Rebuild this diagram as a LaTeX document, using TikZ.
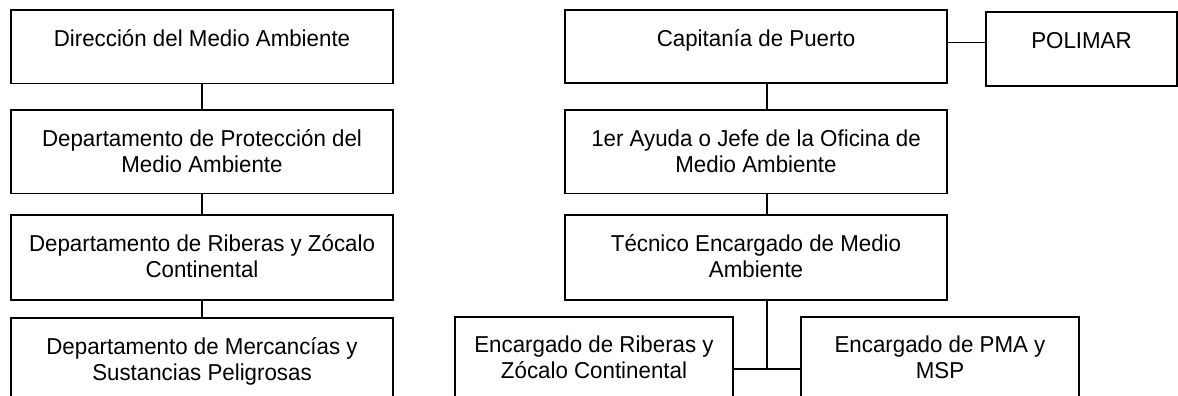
\documentclass[tikz,border=0pt]{standalone}
\usepackage{fontspec}
\setmainfont{Liberation Sans}[FakeStretch=0.97]
\tikzset{
  box/.style={draw=black, line width=1.8pt, rectangle, inner sep=0pt, outer sep=0pt, fill=white},
  lbl/.style={anchor=north, inner sep=0pt, align=center, font=\fontsize{23pt}{25.8pt}\selectfont},
  conn/.style={draw=black, line width=1.8pt}
}
\newcommand{\tl}{\rule{0pt}{19pt}}
\begin{document}
\begin{tikzpicture}[x=1pt,y=-1pt]
\useasboundingbox (0,0) rectangle (1178,396);
% left column
\node[box, minimum width=382pt, minimum height=73.5pt] (l1) at (202,46.75) {};
\node[box, minimum width=382pt, minimum height=83.5pt] (l2) at (202,151.75) {};
\node[box, minimum width=382pt, minimum height=85pt] (l3) at (202,257.5) {};
\node[box, minimum width=382pt, minimum height=102pt] (l4) at (202,369) {};
% right column
\node[box, minimum width=382pt, minimum height=73pt] (r1) at (756,46.5) {};
\node[box, minimum width=191pt, minimum height=74pt] (p) at (1081.5,49) {};
\node[box, minimum width=382pt, minimum height=83.5pt] (r2) at (756,151.75) {};
\node[box, minimum width=382pt, minimum height=85pt] (r3) at (756,257.5) {};
\node[box, minimum width=278pt, minimum height=103pt] (bl) at (594,368.5) {};
\node[box, minimum width=278pt, minimum height=103pt] (br) at (940,368.5) {};
% labels
\node[lbl] (l1t) at ([yshift=-17pt]l1.north) {\tl Dirección del Medio Ambiente};
\node[lbl] (l2t) at ([yshift=-17pt]l2.north) {\tl Departamento de Protección del\\Medio Ambiente};
\node[lbl] (l3t) at ([yshift=-17pt]l3.north) {\tl Departamento de Riberas y Zócalo\\Continental};
\node[lbl] (l4t) at ([yshift=-17pt]l4.north) {\tl Departamento de Mercancías y\\Sustancias Peligrosas};
\node[lbl] (r1t) at ([yshift=-17pt]r1.north) {\tl Capitanía de Puerto};
\node[lbl] (pt) at ([yshift=-17pt]p.north) {\tl POLIMAR};
\node[lbl] (r2t) at ([yshift=-17pt]r2.north) {\tl 1er Ayuda o Jefe de la Oficina de\\Medio Ambiente};
\node[lbl] (r3t) at ([yshift=-17pt]r3.north) {\tl Técnico Encargado de Medio\\Ambiente};
\node[lbl] (blt) at ([yshift=-16pt]bl.north) {\tl Encargado de Riberas y\\Zócalo Continental};
\node[lbl] (brt) at ([yshift=-16pt]br.north) {\tl Encargado de PMA y\\MSP};
% connectors
\draw[conn] (l1.south) -- (l2.north);
\draw[conn] (l2.south) -- (l3.north);
\draw[conn] (l3.south) -- (l4.north);
\draw[conn] ([xshift=11pt]r1.south) -- ([xshift=11pt]r2.north);
\draw[conn] ([xshift=11pt]r2.south) -- ([xshift=11pt]r3.north);
\draw[conn] ([yshift=4pt]r1.east) -- ([yshift=4pt]r1.east -| p.west);
\coordinate (j) at ([xshift=11pt,yshift=-69.3pt]r3.south);
\draw[conn] ([xshift=11pt]r3.south) -- (j);
\draw[conn] (bl.east |- j) -- (br.west |- j);
\end{tikzpicture}
\end{document}
